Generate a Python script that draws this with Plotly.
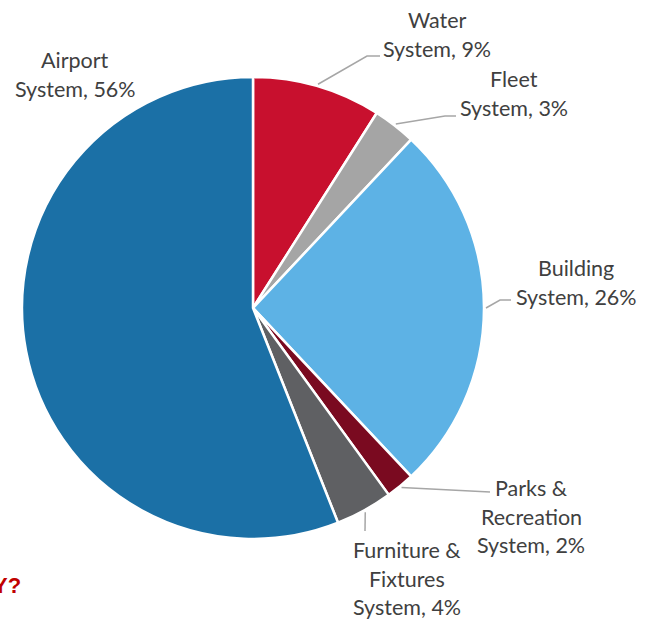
import math
import plotly.graph_objects as go

# Share of assets by system (percent)
categories = ["Water System", "Fleet System", "Building System",
              "Parks & Recreation System", "Furniture & Fixtures System", "Airport System"]
values = [9, 3, 26, 2, 4, 56]
label_lines = [
    ["Water", "System, 9%"],
    ["Fleet", "System, 3%"],
    ["Building", "System, 26%"],
    ["Parks &", "Recreation", "System, 2%"],
    ["Furniture &", "Fixtures", "System, 4%"],
    ["Airport", "System, 56%"],
]
colors = ["#C8102E", "#A5A5A5", "#5DB2E5", "#7A0A20", "#5F6063", "#1B70A6"]

W, H = 654, 621
CX, CY, R = 253, 308, 231  # pie centre and radius in pixels
LINE_GAP = 28.7


def px(x, y):
    return x / W, 1 - y / H


# label placement: centre x and first-line centre y in pixels, optional leader elbow
label_style = [
    dict(pos=(437, 20), elbow=(367, 56), end=(380, 56)),
    dict(pos=(514, 79), elbow=(445, 116), end=(456, 116)),
    dict(pos=(576, 268), elbow=(500, 300), end=(511, 300)),
    dict(pos=(531, 488), elbow=None, end=(490, 492)),
    dict(pos=(407, 550), elbow=None, end=(365, 531)),
    dict(pos=(75, 60), elbow=None, end=None),
]

fig = go.Figure(go.Pie(
    labels=categories,
    values=values,
    sort=False,
    direction="clockwise",
    rotation=0,
    textinfo="none",
    hoverinfo="label+percent",
    marker=dict(colors=colors, line=dict(color="white", width=2.5)),
    domain=dict(x=[(CX - R) / W, (CX + R) / W], y=[1 - (CY + R) / H, 1 - (CY - R) / H]),
    showlegend=False,
))

total = sum(values)
cum = 0
annotations = []
shapes = []
for v, lines, st in zip(values, label_lines, label_style):
    mid = (cum + v / 2) / total * 2 * math.pi
    cum += v
    sx = CX + (R + 2) * math.sin(mid)
    sy = CY - (R + 2) * math.cos(mid)
    if st["end"] is not None:
        pts = [(sx, sy)]
        if st["elbow"] is not None:
            pts.append(st["elbow"])
        pts.append(st["end"])
        path = "M " + " L ".join(f"{px(*p)[0]:.5f},{px(*p)[1]:.5f}" for p in pts)
        shapes.append(dict(type="path", path=path, xref="paper", yref="paper",
                           line=dict(color="#A6A6A6", width=1.5)))
    x0, y0 = st["pos"]
    for i, line in enumerate(lines):
        lx, ly = px(x0, y0 + i * LINE_GAP)
        annotations.append(dict(
            x=lx, y=ly, xref="paper", yref="paper", text=line, showarrow=False,
            xanchor="center", yanchor="middle", align="center",
            font=dict(family="Lato", size=21.5, color="#404040"),
        ))

tx, ty = px(23, 585)
annotations.append(dict(
    x=tx, y=ty, xref="paper", yref="paper", text="<b>Y?</b>", showarrow=False,
    xanchor="right", yanchor="middle",
    font=dict(family="Liberation Sans", size=22, color="#C00000"),
))

fig.update_layout(
    width=W, height=H,
    margin=dict(l=0, r=0, t=0, b=0),
    paper_bgcolor="white", plot_bgcolor="white",
    annotations=annotations, shapes=shapes,
)

fig.write_html("out.html")
